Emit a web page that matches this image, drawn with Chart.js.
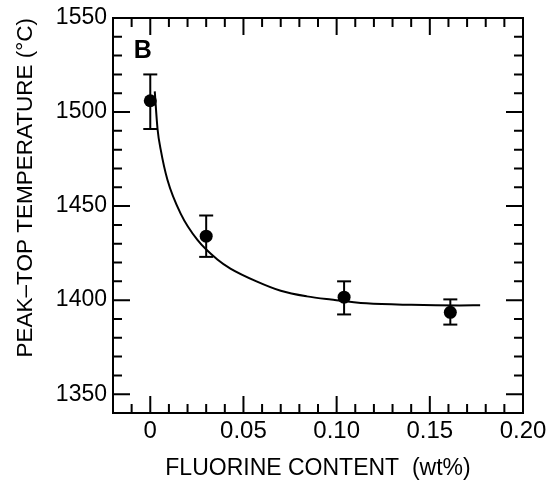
<!DOCTYPE html>
<html>
<head>
<meta charset="utf-8">
<script src="https://cdn.jsdelivr.net/npm/chart.js@4/dist/chart.umd.min.js"></script>
<style>
  html, body { margin: 0; padding: 0; background: #fff; }
  #wrap { width: 546px; height: 487px; }
</style>
</head>
<body>
<div id="wrap"><canvas id="chart" width="546" height="487"></canvas></div>
<script>
// measured points with error bars
const fluorine = [0, 0.030, 0.104, 0.161];
const peakTemp = [1506, 1434, 1401.6, 1393.5];
const errLow = [1491, 1423, 1392.4, 1387];
const errHigh = [1520, 1445, 1410, 1400.4];

// fitted decay curve
const fitX = [0.0024, 0.0039, 0.0056, 0.0092, 0.0163, 0.0253, 0.036, 0.043, 0.057, 0.070, 0.084, 0.097, 0.116, 0.140, 0.166, 0.177];
const fitY = [1511, 1491, 1480, 1464, 1446, 1432, 1421.6, 1416.8, 1410, 1405, 1402, 1400.3, 1398.3, 1397.5, 1397.2, 1397.3];

const xMin = -0.02, xMax = 0.20, xStep = 0.01;
const yMin = 1340, yMax = 1550, yStep = 10;
const panelLabel = 'B';

const FONT = '"Liberation Sans", Arial, sans-serif';

// frame with inward ticks on all four sides, plus the panel letter
const frameTicks = {
  id: 'frameTicks',
  afterDatasetsDraw(chart) {
    const { ctx, chartArea: a, scales: { x, y } } = chart;
    ctx.save();
    ctx.strokeStyle = '#000';
    ctx.lineWidth = 2;
    ctx.strokeRect(a.left, a.top, a.right - a.left, a.bottom - a.top);
    ctx.beginPath();
    x.ticks.forEach(t => {
      const px = x.getPixelForValue(t.value);
      const len = Math.round(t.value * 100) % 5 === 0 ? 17 : 9;
      ctx.moveTo(px, a.bottom); ctx.lineTo(px, a.bottom - len);
      ctx.moveTo(px, a.top); ctx.lineTo(px, a.top + len);
    });
    y.ticks.forEach(t => {
      const py = y.getPixelForValue(t.value);
      const len = Math.round(t.value) % 50 === 0 ? 17 : 9;
      ctx.moveTo(a.left, py); ctx.lineTo(a.left + len, py);
      ctx.moveTo(a.right, py); ctx.lineTo(a.right - len, py);
    });
    ctx.stroke();

    ctx.fillStyle = '#000';
    ctx.font = 'bold 25px ' + FONT;
    ctx.textAlign = 'left';
    ctx.textBaseline = 'alphabetic';
    ctx.fillText(panelLabel, x.getPixelForValue(-0.0088), y.getPixelForValue(1528.8));
    ctx.restore();
  }
};

const errorSets = fluorine.map((f, i) => ({
  data: [{ x: f, y: errLow[i] }, { x: f, y: errHigh[i] }],
  showLine: true,
  borderColor: '#000',
  borderWidth: 2,
  pointStyle: 'line',
  pointRadius: 7,
  pointBorderWidth: 2,
  pointBorderColor: '#000',
  order: 2,
}));

new Chart(document.getElementById('chart'), {
  type: 'scatter',
  data: {
    datasets: [
      {
        data: fluorine.map((f, i) => ({ x: f, y: peakTemp[i] })),
        pointRadius: 6.5,
        pointBackgroundColor: '#000',
        pointBorderColor: '#000',
        pointBorderWidth: 0,
        order: 0,
      },
      {
        data: fitX.map((f, i) => ({ x: f, y: fitY[i] })),
        showLine: true,
        borderColor: '#000',
        borderWidth: 2,
        pointRadius: 0,
        cubicInterpolationMode: 'monotone',
        order: 3,
      },
      ...errorSets,
    ],
  },
  options: {
    responsive: false,
    animation: false,
    events: [],
    layout: { padding: { top: 18, right: 23, bottom: 0, left: 0 } },
    plugins: { legend: { display: false }, tooltip: { enabled: false } },
    scales: {
      x: {
        type: 'linear',
        min: xMin,
        max: xMax,
        grid: { display: false, drawTicks: false },
        border: { display: false },
        ticks: {
          stepSize: xStep,
          autoSkip: false,
          maxRotation: 0,
          minRotation: 0,
          padding: 4,
          color: '#000',
          font: { family: FONT, size: 24 },
          callback: (v) => {
            const c = Math.round(v * 100);
            if (c % 5 !== 0) return '';
            return c === 0 ? '0' : (c / 100).toFixed(2);
          },
        },
        title: {
          display: true,
          text: 'FLUORINE CONTENT  (wt%)',
          color: '#000',
          font: { family: FONT, size: 23 },
          padding: { top: 0, bottom: 5 },
        },
        afterFit: (s) => { s.height = 74; s.paddingLeft = 0; s.paddingRight = 0; },
      },
      y: {
        type: 'linear',
        min: yMin,
        max: yMax,
        grid: { display: false, drawTicks: false },
        border: { display: false },
        ticks: {
          stepSize: yStep,
          autoSkip: false,
          padding: 6,
          color: '#000',
          font: { family: FONT, size: 23 },
          callback: (v) => (Math.round(v) % 50 === 0 ? String(Math.round(v)) : ''),
        },
        title: {
          display: true,
          text: 'PEAK\u2013TOP TEMPERATURE (\u00B0C)',
          align: 'end',
          color: '#000',
          font: { family: FONT, size: 22.5 },
          padding: { top: 12, bottom: 0 },
        },
        afterFit: (s) => { s.width = 113; s.paddingTop = 0; s.paddingBottom = 0; },
      },
    },
  },
  plugins: [frameTicks],
});
</script>
</body>
</html>
